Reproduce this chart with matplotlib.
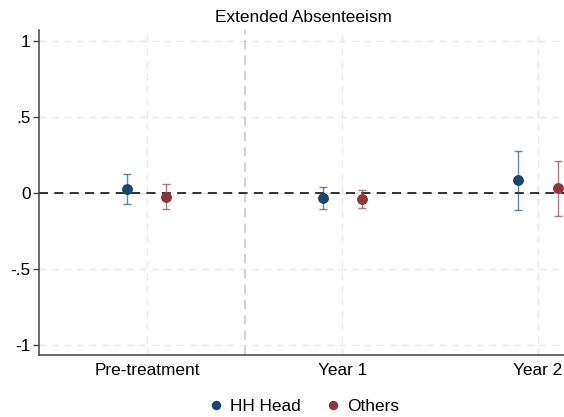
import matplotlib
matplotlib.use("Agg")
import matplotlib.pyplot as plt
import numpy as np

plt.rcParams['font.family'] = ['Liberation Sans', 'DejaVu Sans']

categories = ["Pre-treatment", "Year 1", "Year 2"]
series_names = ["HH Head", "Others"]
hh_est = [0.024, -0.031, 0.086]
hh_lo = [-0.072, -0.103, -0.110]
hh_hi = [0.127, 0.037, 0.276]
ot_est = [-0.026, -0.037, 0.031]
ot_lo = [-0.107, -0.100, -0.151]
ot_hi = [0.057, 0.020, 0.212]
yticks = [-1, -0.5, 0, 0.5, 1]
ytick_labels = ["-1", "-.5", "0", ".5", "1"]

colors = ["#1a476f", "#90353b"]

fig = plt.figure(figsize=(5.64, 4.17), dpi=100)
ax = fig.add_axes([39/564, (417-355)/417, 1 - 39/564, (355-30)/417])

x = np.arange(len(categories))
offsets = [-0.1, 0.1]
data = [(hh_est, hh_lo, hh_hi), (ot_est, ot_lo, ot_hi)]

# grid
for yt in yticks:
    ax.axhline(yt, color="#e8e8e8", lw=1, ls=(0, (5, 4)), zorder=0)
for xi in x:
    ax.axvline(xi, color="#e8e8e8", lw=1, ls=(0, (5, 4)), zorder=0)
ax.axvline(0.5, color="#c8c8c8", lw=1.1, ls=(0, (6, 4)), zorder=1)
ax.axhline(0, color="#222222", lw=1.3, ls=(0, (5, 3.5)), zorder=2)

handles = []
for (est, lo, hi), off, c, name in zip(data, offsets, colors, series_names):
    est = np.array(est); lo = np.array(lo); hi = np.array(hi)
    ax.errorbar(x + off, est, yerr=[est - lo, hi - est], fmt="none",
                ecolor=c, alpha=0.65, elinewidth=1.0, capsize=3, capthick=1.0, zorder=3)
    h = ax.plot(x + off, est, "o", color=c, markersize=6.8, zorder=4, label=name)[0]
    handles.append(h)

ax.set_xlim(-0.552, 2.133)
ax.set_ylim(-1.066, 1.072)
ax.set_xticks(x)
ax.set_xticklabels(categories, fontsize=12.4)
ax.set_yticks(yticks)
ax.set_yticklabels(ytick_labels, fontsize=12.4)
ax.tick_params(axis="x", length=0, pad=6)
ax.tick_params(axis="y", length=4, width=1, color="#444444", pad=2)
for s in ["top", "right"]:
    ax.spines[s].set_visible(False)
for s in ["left", "bottom"]:
    ax.spines[s].set_color("#444444")
    ax.spines[s].set_linewidth(1.1)

fig.text(303/564, 1 - 18/417, "Extended Absenteeism", ha="center", va="center", fontsize=12.4)

fig.legend(handles=handles, labels=series_names, loc="center", bbox_to_anchor=(303/564, 1 - 406/417),
           ncol=2, frameon=False, fontsize=12.4, handletextpad=0.3, columnspacing=1.4,
           handlelength=1.0, markerscale=0.85)

fig.savefig("out.png", dpi=100)
